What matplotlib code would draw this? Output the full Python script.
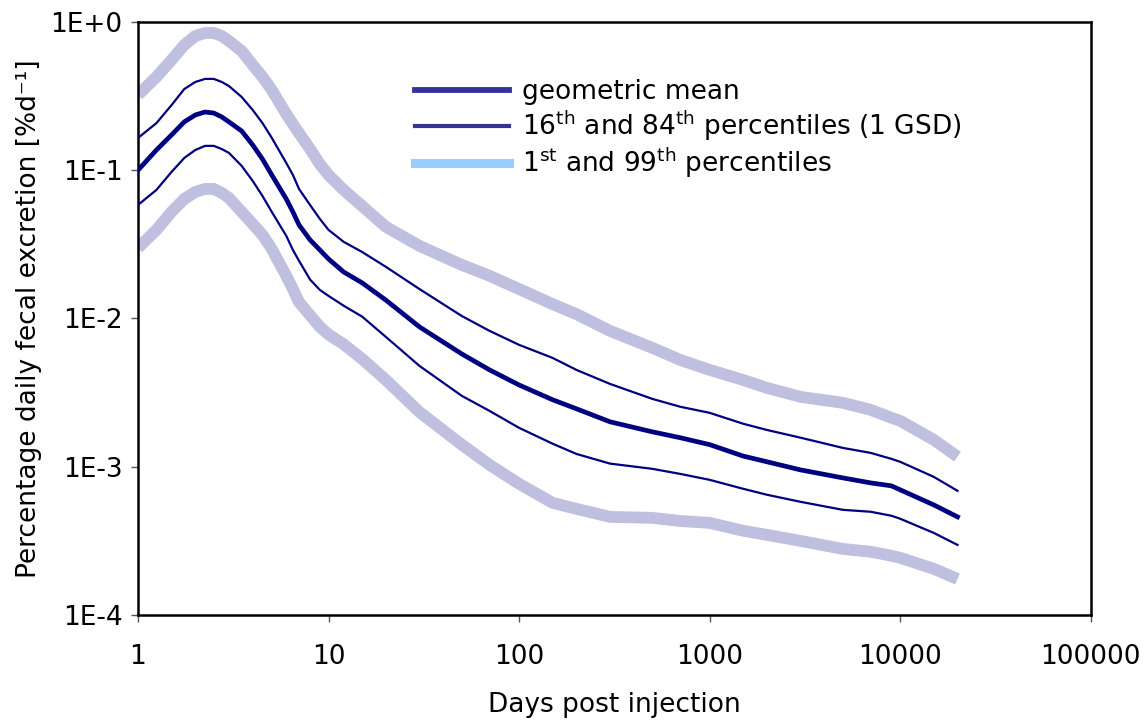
import matplotlib
matplotlib.use("Agg")
import matplotlib.pyplot as plt
from matplotlib.lines import Line2D
from matplotlib.ticker import FixedLocator, FixedFormatter, NullLocator

plt.rcParams['font.family'] = ['DejaVu Sans']
plt.rcParams['mathtext.fontset'] = 'dejavusans'

# Days post injection
days = [1, 1.25, 1.5, 1.75, 2, 2.25, 2.5, 2.75, 3, 3.5, 4, 4.5, 5, 6, 6.5,
        7, 8, 9, 10, 12, 15, 20, 30, 50, 70, 100, 150, 200, 300, 500, 700,
        1000, 1500, 2000, 3000, 5000, 7000, 9000, 10000, 15000, 20000]

# Percentage daily fecal excretion [%/d]
geo_mean = [0.100, 0.137, 0.173, 0.212, 0.236, 0.247, 0.243, 0.229, 0.212,
            0.184, 0.148, 0.119, 0.0944, 0.064, 0.0524, 0.0428, 0.0339,
            0.0290, 0.0252, 0.0206, 0.0174, 0.0133, 0.00878, 0.00577,
            0.00450, 0.00356, 0.00283, 0.00246, 0.00201, 0.00172, 0.00157,
            0.00141, 0.00118, 0.00108, 0.000952, 0.000841, 0.000778,
            0.000743, 0.000699, 0.000553, 0.000459]

p84 = [0.165, 0.208, 0.275, 0.353, 0.394, 0.413, 0.413, 0.394, 0.370, 0.312,
       0.255, 0.208, 0.168, 0.112, 0.093, 0.0748, 0.0583, 0.0470, 0.0396,
       0.0329, 0.0281, 0.0223, 0.0158, 0.0104, 0.00825, 0.00664, 0.00542,
       0.00450, 0.00362, 0.00287, 0.00254, 0.00231, 0.00195, 0.00177,
       0.00157, 0.00134, 0.00124, 0.00113, 0.00108, 0.000855, 0.000688]

p16 = [0.0583, 0.0737, 0.0974, 0.121, 0.137, 0.146, 0.146, 0.139, 0.131,
       0.107, 0.0847, 0.0671, 0.0532, 0.0361, 0.0290, 0.0245, 0.0183,
       0.0156, 0.0142, 0.0122, 0.0103, 0.00751, 0.00479, 0.00301, 0.00238,
       0.00183, 0.00143, 0.00122, 0.00105, 0.000968, 0.000895, 0.000816,
       0.000710, 0.000647, 0.000580, 0.000512, 0.000497, 0.000467,
       0.000446, 0.000358, 0.000297]

p99 = [0.322, 0.426, 0.554, 0.700, 0.805, 0.843, 0.843, 0.805, 0.745, 0.637,
       0.513, 0.426, 0.353, 0.240, 0.205, 0.178, 0.139, 0.110, 0.0929,
       0.0737, 0.0574, 0.0415, 0.0309, 0.0230, 0.0194, 0.0158, 0.0125,
       0.0107, 0.00825, 0.00634, 0.00526, 0.00450, 0.00385, 0.00340,
       0.00296, 0.00270, 0.00242, 0.00214, 0.00204, 0.00152, 0.00117]

p01 = [0.0299, 0.0396, 0.0524, 0.0640, 0.0714, 0.0748, 0.0748, 0.0703,
       0.0651, 0.0524, 0.0434, 0.0366, 0.0299, 0.0194, 0.0158, 0.0129,
       0.0105, 0.0088, 0.0078, 0.0067, 0.00534, 0.00385, 0.00234, 0.00141,
       0.00103, 0.000767, 0.000571, 0.000520, 0.000459, 0.000452,
       0.000431, 0.000418, 0.000370, 0.000347, 0.000316, 0.000279,
       0.000267, 0.000251, 0.000243, 0.000205, 0.000175]

x_ticks = [1, 10, 100, 1000, 10000, 100000]
x_tick_labels = ['1', '10', '100', '1000', '10000', '100000']
y_ticks = [1e-4, 1e-3, 1e-2, 1e-1, 1e0]
y_tick_labels = ['1E-4', '1E-3', '1E-2', '1E-1', '1E+0']

legend_labels = ['geometric mean',
                 '16$^{\\mathrm{th}}$ and 84$^{\\mathrm{th}}$ percentiles (1 GSD)',
                 '1$^{\\mathrm{st}}$ and 99$^{\\mathrm{th}}$ percentiles']

NAVY = '#000080'
BAND = '#BFC0E0'
FS = 19

fig = plt.figure(figsize=(11.47, 7.23), dpi=100)
ax = fig.add_axes([0.1203, 0.1494, 0.8306, 0.8202])

ax.plot(days, p99, color=BAND, lw=8.5, solid_capstyle='butt', zorder=2)
ax.plot(days, p01, color=BAND, lw=8.5, solid_capstyle='butt', zorder=2)
ax.plot(days, p84, color=NAVY, lw=1.6, zorder=3)
ax.plot(days, p16, color=NAVY, lw=1.6, zorder=3)
ax.plot(days, geo_mean, color=NAVY, lw=3.4, zorder=4)

ax.set_xscale('log')
ax.set_yscale('log')
ax.set_xlim(1, 100000)
ax.set_ylim(1e-4, 1)

ax.xaxis.set_major_locator(FixedLocator(x_ticks))
ax.xaxis.set_major_formatter(FixedFormatter(x_tick_labels))
ax.xaxis.set_minor_locator(NullLocator())
ax.yaxis.set_major_locator(FixedLocator(y_ticks))
ax.yaxis.set_major_formatter(FixedFormatter(y_tick_labels))
ax.yaxis.set_minor_locator(NullLocator())

ax.tick_params(axis='both', which='major', direction='out', length=5,
               width=1, color='#555555', labelsize=FS)
ax.tick_params(axis='x', pad=16)
ax.tick_params(axis='y', pad=6)

for s in ax.spines.values():
    s.set_linewidth(1.8)
    s.set_color('black')

ax.set_xlabel('Days post injection', fontsize=FS, labelpad=16)
ax.set_ylabel('Percentage daily fecal excretion [%d\u207b\u00b9]',
              fontsize=FS, labelpad=6)

handles = [Line2D([], [], color='#333399', lw=4.2),
           Line2D([], [], color='#333399', lw=3.0),
           Line2D([], [], color='#99CCFF', lw=6.5)]
ax.legend(handles, legend_labels, loc='upper left',
          bbox_to_anchor=(0.2795, 0.9215), frameon=False, fontsize=FS,
          handlelength=3.56, handletextpad=0.49, labelspacing=0.12,
          borderaxespad=0)

fig.savefig('out.png', dpi=100)
